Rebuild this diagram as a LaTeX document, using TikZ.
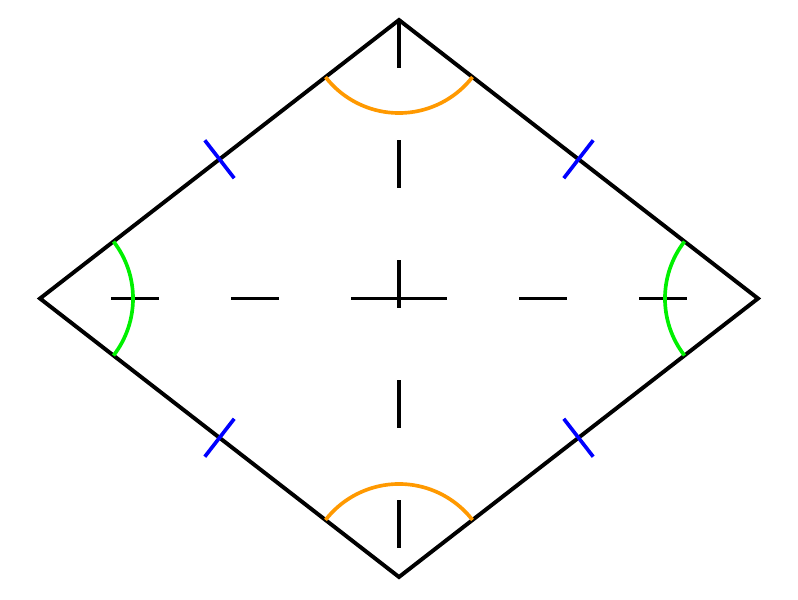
\documentclass[tikz,border=0pt]{standalone}
\usepackage{tikz}
\usetikzlibrary{calc}
\definecolor{angorange}{RGB}{255,153,0}
\definecolor{anggreen}{RGB}{0,240,0}
\tikzset{
	side/.style = {draw, line width=2.8pt, line join=miter},
	diag/.style = {draw, line width=2.8pt, dash pattern=on 1.2cm off 1.8cm},
	tickmark/.style = {draw=blue, line width=2.6pt},
	arcA/.style = {draw=angorange, line width=2.6pt},
	arcB/.style = {draw=anggreen, line width=2.6pt},
	coord/.style = {coordinate}
}
\begin{document}
\begin{tikzpicture}[x=0.025cm, y=0.025cm]
		\useasboundingbox (0,0) rectangle (798,600);
		\node [coord] (top) at (399,580) {};
		\node [coord] (bottom) at (399,23) {};
		\node [coord] (left) at (40,301.5) {};
		\node [coord] (right) at (758,301.5) {};
		\node [coord] (center) at (399,301.5) {};
		% diagonals
		\draw [diag] (center) -- (left);
		\draw [diag] (center) -- (right);
		\draw [diag] (top) -- (bottom);
		% sides
		\draw [side] (top) -- (right) -- (bottom) -- (left) -- cycle;
		% equal sides
		\node [coord] (m1) at ($(left)!0.5!(top)$) {};
		\node [coord] (m2) at ($(top)!0.5!(right)$) {};
		\node [coord] (m3) at ($(right)!0.5!(bottom)$) {};
		\node [coord] (m4) at ($(bottom)!0.5!(left)$) {};
		\draw [tickmark] ($(m1)!0.6cm!90:(top)$) -- ($(m1)!0.6cm!-90:(top)$);
		\draw [tickmark] ($(m2)!0.6cm!90:(right)$) -- ($(m2)!0.6cm!-90:(right)$);
		\draw [tickmark] ($(m3)!0.6cm!90:(bottom)$) -- ($(m3)!0.6cm!-90:(bottom)$);
		\draw [tickmark] ($(m4)!0.6cm!90:(left)$) -- ($(m4)!0.6cm!-90:(left)$);
		% equal angles
		\draw [arcA] (top) ++(217.8:2.325cm) arc [start angle=217.8, end angle=322.2, radius=2.325cm];
		\draw [arcA] (bottom) ++(37.8:2.325cm) arc [start angle=37.8, end angle=142.2, radius=2.325cm];
		\draw [arcB] (left) ++(-37.8:2.325cm) arc [start angle=-37.8, end angle=37.8, radius=2.325cm];
		\draw [arcB] (right) ++(142.2:2.325cm) arc [start angle=142.2, end angle=217.8, radius=2.325cm];
\end{tikzpicture}
\end{document}
